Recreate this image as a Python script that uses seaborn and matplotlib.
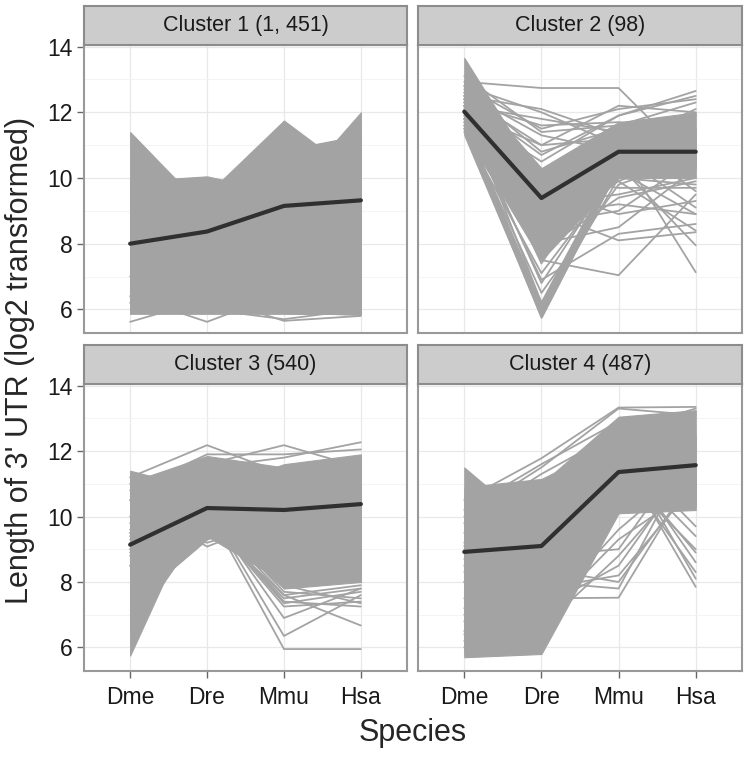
import numpy as np
import pandas as pd
import matplotlib
matplotlib.use('Agg')
import matplotlib.pyplot as plt
import seaborn as sns

species = ['Dme', 'Dre', 'Mmu', 'Hsa']
titles = ['Cluster 1 (1, 451)', 'Cluster 2 (98)', 'Cluster 3 (540)', 'Cluster 4 (487)']
yticks = [6, 8, 10, 12, 14]

# cluster means (dark line)
c1_mean = [8.0, 8.37, 9.15, 9.32]
c2_mean = [12.02, 9.39, 10.8, 10.8]
c3_mean = [9.14, 10.26, 10.2, 10.38]
c4_mean = [8.92, 9.1, 11.36, 11.57]

# dense groups of profiles: per-species low / high of each group
c1_lo = [[5.88, 5.88, 5.88, 5.85],
         [5.88, 5.88, 5.88, 5.85],
         [5.88, 5.88, 5.88, 5.85],
         [5.88, 5.88, 5.88, 5.85],
         [5.88, 5.88, 5.88, 5.85]]
c1_hi = [[11.4, 8.98, 8.5, 8.5],
         [9.9, 10.05, 9.55, 9.3],
         [9.0, 9.5, 11.75, 10.0],
         [8.5, 8.5, 10.85, 11.3],
         [8.0, 8.0, 9.33, 12.0]]

c2_lo = [[11.4, 7.5, 10.0, 10.0],
         [12.0, 9.5, 10.5, 10.5],
         [11.3, 5.75, 10.3, 10.3]]
c2_hi = [[13.0, 10.3, 11.7, 12.0],
         [13.66, 9.9, 11.2, 11.5],
         [11.7, 6.2, 10.6, 10.6]]

c3_lo = [[5.75, 10.9, 10.0, 10.0],
         [6.5, 9.9, 10.0, 10.0],
         [7.3, 9.3, 10.2, 9.0],
         [8.0, 9.4, 8.0, 8.0],
         [9.0, 9.92, 7.8, 8.0]]
c3_hi = [[9.0, 11.2, 11.0, 11.0],
         [9.5, 11.0, 11.0, 11.0],
         [11.4, 10.8, 11.6, 11.9],
         [11.05, 11.85, 11.5, 11.7],
         [10.5, 11.5, 11.4, 11.8]]

c4_lo = [[5.7, 5.8, 10.1, 10.2],
         [5.8, 6.5, 10.3, 10.3],
         [7.0, 8.0, 10.5, 10.5]]
c4_hi = [[11.5, 9.5, 11.5, 11.5],
         [10.9, 11.15, 12.3, 12.5],
         [9.5, 11.0, 13.05, 13.25]]

# single profiles that stand out of the dense groups
c1_lines = [[5.62, 6.3, 6.8, 7.0],
            [6.4, 5.62, 6.5, 7.2],
            [7.0, 6.4, 5.65, 5.8],
            [6.2, 6.0, 5.7, 6.0]]

c2_lines = [[12.93, 12.74, 12.74, 10.4],
            [12.5, 12.1, 11.3, 11.0],
            [12.3, 11.6, 11.7, 11.5],
            [12.6, 11.3, 10.8, 11.9],
            [12.0, 11.0, 11.2, 11.2],
            [12.8, 12.0, 11.0, 12.1],
            [12.2, 11.8, 11.4, 10.9],
            [13.1, 11.4, 11.6, 12.3],
            [12.7, 10.8, 11.5, 11.7],
            [12.5, 11.0, 12.2, 12.0],
            [12.0, 10.5, 11.9, 12.65],
            [12.8, 11.5, 12.1, 12.4],
            [12.4, 10.7, 11.9, 12.5],
            [11.5, 5.75, 10.3, 10.5],
            [11.8, 6.0, 10.0, 9.8],
            [12.2, 6.2, 10.6, 11.2],
            [11.6, 6.5, 9.8, 10.6],
            [12.0, 6.8, 10.4, 10.0],
            [11.4, 7.1, 10.2, 11.4],
            [12.4, 7.4, 10.9, 10.3],
            [11.9, 8.6, 9.9, 8.4],
            [12.1, 9.2, 9.5, 10.0],
            [11.7, 8.9, 9.2, 8.9],
            [12.3, 9.7, 8.9, 9.3],
            [11.6, 8.0, 8.5, 10.3],
            [12.0, 9.0, 8.1, 8.35],
            [12.4, 9.5, 10.9, 7.13],
            [11.8, 9.8, 10.4, 7.95],
            [12.2, 7.5, 7.04, 9.5],
            [11.8, 6.9, 8.3, 8.6],
            [12.6, 10.0, 9.7, 9.7],
            [12.3, 8.3, 10.2, 8.9],
            [11.5, 8.6, 9.0, 10.6],
            [12.1, 9.4, 11.3, 9.6],
            [11.9, 8.8, 10.7, 9.1],
            [12.5, 9.9, 9.9, 10.9],
            [11.7, 7.8, 9.4, 9.9],
            [12.2, 9.1, 10.0, 10.4]]

c3_lines = [[9.0, 10.0, 7.25, 7.4],
            [8.5, 9.9, 7.5, 7.8],
            [9.5, 10.1, 7.4, 7.25],
            [9.2, 10.2, 7.7, 7.5],
            [8.8, 10.0, 7.9, 7.35],
            [9.4, 10.1, 7.6, 7.9],
            [8.9, 10.0, 7.35, 7.7],
            [9.5, 10.25, 5.95, 5.95],
            [9.0, 10.3, 6.35, 7.6],
            [10.0, 10.2, 6.9, 7.8],
            [8.5, 9.8, 7.6, 6.67],
            [10.5, 9.08, 10.0, 10.2],
            [9.8, 9.2, 9.9, 10.1],
            [11.2, 12.18, 11.3, 11.8],
            [10.8, 11.9, 11.9, 12.05],
            [10.5, 11.6, 12.18, 11.5],
            [11.0, 11.5, 11.8, 12.27],
            [9.6, 10.0, 8.4, 8.9],
            [9.3, 10.1, 8.6, 8.2]]

c4_lines = [[10.5, 11.78, 13.33, 13.35],
            [10.0, 11.5, 13.3, 13.1],
            [9.8, 11.3, 12.6, 13.3],
            [10.2, 11.6, 12.9, 13.2],
            [9.0, 10.5, 11.9, 7.85],
            [8.5, 10.0, 11.6, 8.3],
            [9.5, 10.8, 12.0, 8.6],
            [8.0, 9.6, 11.4, 9.0],
            [9.2, 10.2, 11.8, 9.4],
            [8.7, 9.9, 12.2, 8.1],
            [9.1, 10.4, 11.7, 8.9],
            [8.3, 9.7, 12.1, 9.7],
            [6.2, 6.6, 8.8, 11.5],
            [7.0, 7.5, 7.52, 11.4],
            [6.5, 8.0, 7.8, 12.2],
            [6.8, 6.9, 9.3, 10.9],
            [7.2, 7.8, 8.2, 11.0],
            [6.0, 7.2, 8.5, 11.8],
            [8.0, 8.4, 8.0, 11.2],
            [7.5, 8.8, 9.0, 12.3],
            [6.4, 7.0, 9.6, 11.6]]

means = [c1_mean, c2_mean, c3_mean, c4_mean]
los = [c1_lo, c2_lo, c3_lo, c4_lo]
his = [c1_hi, c2_hi, c3_hi, c4_hi]
singles = [c1_lines, c2_lines, c3_lines, c4_lines]

grey = '#a3a3a3'
dark = '#303030'
frame = '#999999'

sns.set_theme(style='white')
plt.rcParams['font.family'] = ['Liberation Sans', 'DejaVu Sans']

fig = plt.figure(figsize=(7.5, 7.59), dpi=100)
W, H = 750.0, 759.0
boxes = [(84, 45, 407, 333), (418, 45, 742, 333),
         (84, 384, 407, 671), (418, 384, 742, 671)]

xpos = np.arange(len(species))
for i, (l, t, r, b) in enumerate(boxes):
    ax = fig.add_axes([l / W, 1 - b / H, (r - l) / W, (b - t) / H])

    for lo, hi in zip(los[i], his[i]):
        ax.fill_between(xpos, lo, hi, color=grey, linewidth=0.8, edgecolor=grey, zorder=2)

    rows = []
    for g, vals in enumerate(singles[i]):
        for s, v in zip(species, vals):
            rows.append({'gene': g, 'species': s, 'value': v})
    df = pd.DataFrame(rows)
    sns.lineplot(data=df, x='species', y='value', units='gene', estimator=None,
                 color=grey, linewidth=1.3, sort=False, ax=ax, zorder=3)

    mdf = pd.DataFrame({'species': species, 'value': means[i]})
    sns.lineplot(data=mdf, x='species', y='value', color=dark, linewidth=3.0,
                 sort=False, ax=ax, zorder=4)

    ax.set_xlim(-0.6, 3.6)
    ax.set_ylim(5.28, 14.05)
    ax.set_yticks(yticks)
    ax.set_yticks([7, 9, 11, 13], minor=True)
    ax.set_xticks(xpos)
    ax.grid(True, which='major', color='#e8e8e8', linewidth=0.9, zorder=0)
    ax.grid(True, which='minor', axis='y', color='#f2f2f2', linewidth=0.6, zorder=0)
    ax.set_axisbelow(True)
    for sp in ax.spines.values():
        sp.set_color(frame)
        sp.set_linewidth(1.5)
        sp.set_visible(True)
    ax.set_xlabel('')
    ax.set_ylabel('')

    left = i % 2 == 0
    bottom = i >= 2
    ax.tick_params(axis='y', which='major', left=left, length=5, width=1, color='#666666',
                   labelleft=left, labelsize=16.5, pad=3, labelcolor='#1a1a1a')
    ax.tick_params(axis='y', which='minor', left=False)
    ax.tick_params(axis='x', bottom=bottom, length=5, width=1, color='#666666',
                   labelbottom=bottom, labelsize=16.5, pad=6, labelcolor='#1a1a1a')
    if bottom:
        ax.set_xticklabels(species)

    strip = ax.inset_axes([0, 1.0, 1, 39.0 / (b - t)])
    strip.set_facecolor('#cccccc')
    strip.set_xticks([])
    strip.set_yticks([])
    for sp in strip.spines.values():
        sp.set_color('#8c8c8c')
        sp.set_linewidth(1.5)
    strip.text(0.5, 0.5, titles[i], ha='center', va='center', fontsize=15.5,
               color='#1a1a1a', transform=strip.transAxes)

fig.text(413 / W, 1 - 733 / H, 'Species', ha='center', va='center', fontsize=22)
fig.text(20 / W, 1 - 360 / H, "Length of 3' UTR (log2 transformed)", ha='center',
         va='center', rotation=90, fontsize=22)

fig.savefig('out.png', dpi=100, facecolor='white')
